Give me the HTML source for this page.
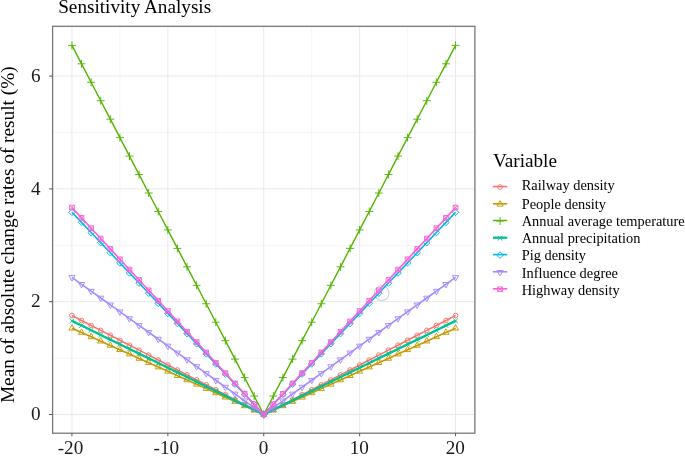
<!DOCTYPE html>
<html><head><meta charset="utf-8"><title>Sensitivity Analysis</title>
<style>html,body{margin:0;padding:0;background:#fff;overflow:hidden}body{width:685px;height:456px;font-family:"Liberation Serif",serif}</style></head>
<body>
<svg width="685" height="456" viewBox="0 0 685 456" style="display:block;filter:blur(0.35px);font-family:'Liberation Serif',serif">
<rect width="685" height="456" fill="#fff"/>
<path d="M52.6,358.10H474.9" stroke="#f0f0f0" stroke-width="0.7"/>
<path d="M52.6,245.30H474.9" stroke="#f0f0f0" stroke-width="0.7"/>
<path d="M52.6,132.50H474.9" stroke="#f0f0f0" stroke-width="0.7"/>
<path d="M119.90,26.3V433.2" stroke="#f0f0f0" stroke-width="0.7"/>
<path d="M215.80,26.3V433.2" stroke="#f0f0f0" stroke-width="0.7"/>
<path d="M311.70,26.3V433.2" stroke="#f0f0f0" stroke-width="0.7"/>
<path d="M407.60,26.3V433.2" stroke="#f0f0f0" stroke-width="0.7"/>
<path d="M52.6,414.50H474.9" stroke="#e9e9e9" stroke-width="1"/>
<path d="M52.6,301.70H474.9" stroke="#e9e9e9" stroke-width="1"/>
<path d="M52.6,188.90H474.9" stroke="#e9e9e9" stroke-width="1"/>
<path d="M52.6,76.10H474.9" stroke="#e9e9e9" stroke-width="1"/>
<path d="M71.95,26.3V433.2" stroke="#e9e9e9" stroke-width="1"/>
<path d="M167.85,26.3V433.2" stroke="#e9e9e9" stroke-width="1"/>
<path d="M263.75,26.3V433.2" stroke="#e9e9e9" stroke-width="1"/>
<path d="M359.65,26.3V433.2" stroke="#e9e9e9" stroke-width="1"/>
<path d="M455.55,26.3V433.2" stroke="#e9e9e9" stroke-width="1"/>
<circle cx="381.6" cy="293.2" r="7.4" fill="none" stroke="#cdcdd2" stroke-width="1.1"/>
<polyline fill="none" stroke="#F8766D" stroke-width="1.6" stroke-linejoin="round" points="71.95,315.52 81.54,320.47 91.13,325.42 100.72,330.37 110.31,335.31 119.90,340.26 129.49,345.21 139.08,350.16 148.67,355.11 158.26,360.06 167.85,365.01 177.44,369.96 187.03,374.91 196.62,379.86 206.21,384.81 215.80,389.75 225.39,394.70 234.98,399.65 244.57,404.60 254.16,409.55 263.75,414.50 273.34,409.55 282.93,404.60 292.52,399.65 302.11,394.70 311.70,389.75 321.29,384.81 330.88,379.86 340.47,374.91 350.06,369.96 359.65,365.01 369.24,360.06 378.83,355.11 388.42,350.16 398.01,345.21 407.60,340.26 417.19,335.31 426.78,330.37 436.37,325.42 445.96,320.47 455.55,315.52"/>
<g><circle cx="71.95" cy="315.52" r="2.33" fill="none" stroke="#F8766D" stroke-width="0.95"/><circle cx="81.54" cy="320.47" r="2.33" fill="none" stroke="#F8766D" stroke-width="0.95"/><circle cx="91.13" cy="325.42" r="2.33" fill="none" stroke="#F8766D" stroke-width="0.95"/><circle cx="100.72" cy="330.37" r="2.33" fill="none" stroke="#F8766D" stroke-width="0.95"/><circle cx="110.31" cy="335.31" r="2.33" fill="none" stroke="#F8766D" stroke-width="0.95"/><circle cx="119.90" cy="340.26" r="2.33" fill="none" stroke="#F8766D" stroke-width="0.95"/><circle cx="129.49" cy="345.21" r="2.33" fill="none" stroke="#F8766D" stroke-width="0.95"/><circle cx="139.08" cy="350.16" r="2.33" fill="none" stroke="#F8766D" stroke-width="0.95"/><circle cx="148.67" cy="355.11" r="2.33" fill="none" stroke="#F8766D" stroke-width="0.95"/><circle cx="158.26" cy="360.06" r="2.33" fill="none" stroke="#F8766D" stroke-width="0.95"/><circle cx="167.85" cy="365.01" r="2.33" fill="none" stroke="#F8766D" stroke-width="0.95"/><circle cx="177.44" cy="369.96" r="2.33" fill="none" stroke="#F8766D" stroke-width="0.95"/><circle cx="187.03" cy="374.91" r="2.33" fill="none" stroke="#F8766D" stroke-width="0.95"/><circle cx="196.62" cy="379.86" r="2.33" fill="none" stroke="#F8766D" stroke-width="0.95"/><circle cx="206.21" cy="384.81" r="2.33" fill="none" stroke="#F8766D" stroke-width="0.95"/><circle cx="215.80" cy="389.75" r="2.33" fill="none" stroke="#F8766D" stroke-width="0.95"/><circle cx="225.39" cy="394.70" r="2.33" fill="none" stroke="#F8766D" stroke-width="0.95"/><circle cx="234.98" cy="399.65" r="2.33" fill="none" stroke="#F8766D" stroke-width="0.95"/><circle cx="244.57" cy="404.60" r="2.33" fill="none" stroke="#F8766D" stroke-width="0.95"/><circle cx="254.16" cy="409.55" r="2.33" fill="none" stroke="#F8766D" stroke-width="0.95"/><circle cx="263.75" cy="414.50" r="2.33" fill="none" stroke="#F8766D" stroke-width="0.95"/><circle cx="273.34" cy="409.55" r="2.33" fill="none" stroke="#F8766D" stroke-width="0.95"/><circle cx="282.93" cy="404.60" r="2.33" fill="none" stroke="#F8766D" stroke-width="0.95"/><circle cx="292.52" cy="399.65" r="2.33" fill="none" stroke="#F8766D" stroke-width="0.95"/><circle cx="302.11" cy="394.70" r="2.33" fill="none" stroke="#F8766D" stroke-width="0.95"/><circle cx="311.70" cy="389.75" r="2.33" fill="none" stroke="#F8766D" stroke-width="0.95"/><circle cx="321.29" cy="384.81" r="2.33" fill="none" stroke="#F8766D" stroke-width="0.95"/><circle cx="330.88" cy="379.86" r="2.33" fill="none" stroke="#F8766D" stroke-width="0.95"/><circle cx="340.47" cy="374.91" r="2.33" fill="none" stroke="#F8766D" stroke-width="0.95"/><circle cx="350.06" cy="369.96" r="2.33" fill="none" stroke="#F8766D" stroke-width="0.95"/><circle cx="359.65" cy="365.01" r="2.33" fill="none" stroke="#F8766D" stroke-width="0.95"/><circle cx="369.24" cy="360.06" r="2.33" fill="none" stroke="#F8766D" stroke-width="0.95"/><circle cx="378.83" cy="355.11" r="2.33" fill="none" stroke="#F8766D" stroke-width="0.95"/><circle cx="388.42" cy="350.16" r="2.33" fill="none" stroke="#F8766D" stroke-width="0.95"/><circle cx="398.01" cy="345.21" r="2.33" fill="none" stroke="#F8766D" stroke-width="0.95"/><circle cx="407.60" cy="340.26" r="2.33" fill="none" stroke="#F8766D" stroke-width="0.95"/><circle cx="417.19" cy="335.31" r="2.33" fill="none" stroke="#F8766D" stroke-width="0.95"/><circle cx="426.78" cy="330.37" r="2.33" fill="none" stroke="#F8766D" stroke-width="0.95"/><circle cx="436.37" cy="325.42" r="2.33" fill="none" stroke="#F8766D" stroke-width="0.95"/><circle cx="445.96" cy="320.47" r="2.33" fill="none" stroke="#F8766D" stroke-width="0.95"/><circle cx="455.55" cy="315.52" r="2.33" fill="none" stroke="#F8766D" stroke-width="0.95"/></g>
<polyline fill="none" stroke="#C49A00" stroke-width="1.6" stroke-linejoin="round" points="71.95,328.21 81.54,332.52 91.13,336.84 100.72,341.15 110.31,345.47 119.90,349.78 129.49,354.10 139.08,358.41 148.67,362.72 158.26,367.04 167.85,371.35 177.44,375.67 187.03,379.98 196.62,384.30 206.21,388.61 215.80,392.93 225.39,397.24 234.98,401.56 244.57,405.87 254.16,410.19 263.75,414.50 273.34,410.19 282.93,405.87 292.52,401.56 302.11,397.24 311.70,392.93 321.29,388.61 330.88,384.30 340.47,379.98 350.06,375.67 359.65,371.35 369.24,367.04 378.83,362.72 388.42,358.41 398.01,354.10 407.60,349.78 417.19,345.47 426.78,341.15 436.37,336.84 445.96,332.52 455.55,328.21"/>
<g><path d="M71.95,324.59L75.08,330.02L68.82,330.02Z" fill="none" stroke="#C49A00" stroke-width="0.95"/><path d="M81.54,328.91L84.67,334.33L78.41,334.33Z" fill="none" stroke="#C49A00" stroke-width="0.95"/><path d="M91.13,333.22L94.26,338.65L88.00,338.65Z" fill="none" stroke="#C49A00" stroke-width="0.95"/><path d="M100.72,337.54L103.85,342.96L97.59,342.96Z" fill="none" stroke="#C49A00" stroke-width="0.95"/><path d="M110.31,341.85L113.44,347.27L107.18,347.27Z" fill="none" stroke="#C49A00" stroke-width="0.95"/><path d="M119.90,346.17L123.03,351.59L116.77,351.59Z" fill="none" stroke="#C49A00" stroke-width="0.95"/><path d="M129.49,350.48L132.62,355.90L126.36,355.90Z" fill="none" stroke="#C49A00" stroke-width="0.95"/><path d="M139.08,354.79L142.21,360.22L135.95,360.22Z" fill="none" stroke="#C49A00" stroke-width="0.95"/><path d="M148.67,359.11L151.80,364.53L145.54,364.53Z" fill="none" stroke="#C49A00" stroke-width="0.95"/><path d="M158.26,363.42L161.39,368.85L155.13,368.85Z" fill="none" stroke="#C49A00" stroke-width="0.95"/><path d="M167.85,367.74L170.98,373.16L164.72,373.16Z" fill="none" stroke="#C49A00" stroke-width="0.95"/><path d="M177.44,372.05L180.57,377.48L174.31,377.48Z" fill="none" stroke="#C49A00" stroke-width="0.95"/><path d="M187.03,376.37L190.16,381.79L183.90,381.79Z" fill="none" stroke="#C49A00" stroke-width="0.95"/><path d="M196.62,380.68L199.75,386.11L193.49,386.11Z" fill="none" stroke="#C49A00" stroke-width="0.95"/><path d="M206.21,385.00L209.34,390.42L203.08,390.42Z" fill="none" stroke="#C49A00" stroke-width="0.95"/><path d="M215.80,389.31L218.93,394.73L212.67,394.73Z" fill="none" stroke="#C49A00" stroke-width="0.95"/><path d="M225.39,393.63L228.52,399.05L222.26,399.05Z" fill="none" stroke="#C49A00" stroke-width="0.95"/><path d="M234.98,397.94L238.11,403.36L231.85,403.36Z" fill="none" stroke="#C49A00" stroke-width="0.95"/><path d="M244.57,402.26L247.70,407.68L241.44,407.68Z" fill="none" stroke="#C49A00" stroke-width="0.95"/><path d="M254.16,406.57L257.29,411.99L251.03,411.99Z" fill="none" stroke="#C49A00" stroke-width="0.95"/><path d="M263.75,410.88L266.88,416.31L260.62,416.31Z" fill="none" stroke="#C49A00" stroke-width="0.95"/><path d="M273.34,406.57L276.47,411.99L270.21,411.99Z" fill="none" stroke="#C49A00" stroke-width="0.95"/><path d="M282.93,402.26L286.06,407.68L279.80,407.68Z" fill="none" stroke="#C49A00" stroke-width="0.95"/><path d="M292.52,397.94L295.65,403.36L289.39,403.36Z" fill="none" stroke="#C49A00" stroke-width="0.95"/><path d="M302.11,393.63L305.24,399.05L298.98,399.05Z" fill="none" stroke="#C49A00" stroke-width="0.95"/><path d="M311.70,389.31L314.83,394.73L308.57,394.73Z" fill="none" stroke="#C49A00" stroke-width="0.95"/><path d="M321.29,385.00L324.42,390.42L318.16,390.42Z" fill="none" stroke="#C49A00" stroke-width="0.95"/><path d="M330.88,380.68L334.01,386.11L327.75,386.11Z" fill="none" stroke="#C49A00" stroke-width="0.95"/><path d="M340.47,376.37L343.60,381.79L337.34,381.79Z" fill="none" stroke="#C49A00" stroke-width="0.95"/><path d="M350.06,372.05L353.19,377.48L346.93,377.48Z" fill="none" stroke="#C49A00" stroke-width="0.95"/><path d="M359.65,367.74L362.78,373.16L356.52,373.16Z" fill="none" stroke="#C49A00" stroke-width="0.95"/><path d="M369.24,363.42L372.37,368.85L366.11,368.85Z" fill="none" stroke="#C49A00" stroke-width="0.95"/><path d="M378.83,359.11L381.96,364.53L375.70,364.53Z" fill="none" stroke="#C49A00" stroke-width="0.95"/><path d="M388.42,354.79L391.55,360.22L385.29,360.22Z" fill="none" stroke="#C49A00" stroke-width="0.95"/><path d="M398.01,350.48L401.14,355.90L394.88,355.90Z" fill="none" stroke="#C49A00" stroke-width="0.95"/><path d="M407.60,346.17L410.73,351.59L404.47,351.59Z" fill="none" stroke="#C49A00" stroke-width="0.95"/><path d="M417.19,341.85L420.32,347.27L414.06,347.27Z" fill="none" stroke="#C49A00" stroke-width="0.95"/><path d="M426.78,337.54L429.91,342.96L423.65,342.96Z" fill="none" stroke="#C49A00" stroke-width="0.95"/><path d="M436.37,333.22L439.50,338.65L433.24,338.65Z" fill="none" stroke="#C49A00" stroke-width="0.95"/><path d="M445.96,328.91L449.09,334.33L442.83,334.33Z" fill="none" stroke="#C49A00" stroke-width="0.95"/><path d="M455.55,324.59L458.68,330.02L452.42,330.02Z" fill="none" stroke="#C49A00" stroke-width="0.95"/></g>
<polyline fill="none" stroke="#53B400" stroke-width="1.4" stroke-linejoin="round" points="71.95,45.36 81.54,63.82 91.13,82.28 100.72,100.73 110.31,119.19 119.90,137.65 129.49,156.10 139.08,174.56 148.67,193.02 158.26,211.47 167.85,229.93 177.44,248.39 187.03,266.84 196.62,285.30 206.21,303.76 215.80,322.22 225.39,340.67 234.98,359.13 244.57,377.59 254.16,396.04 263.75,414.50 273.34,396.04 282.93,377.59 292.52,359.13 302.11,340.67 311.70,322.22 321.29,303.76 330.88,285.30 340.47,266.84 350.06,248.39 359.65,229.93 369.24,211.47 378.83,193.02 388.42,174.56 398.01,156.10 407.60,137.65 417.19,119.19 426.78,100.73 436.37,82.28 445.96,63.82 455.55,45.36"/>
<g><path d="M68.00,45.36H75.90M71.95,41.42V49.31" fill="none" stroke="#53B400" stroke-width="0.95"/><path d="M77.59,63.82H85.49M81.54,59.87V67.76" fill="none" stroke="#53B400" stroke-width="0.95"/><path d="M87.18,82.28H95.08M91.13,78.33V86.22" fill="none" stroke="#53B400" stroke-width="0.95"/><path d="M96.77,100.73H104.67M100.72,96.79V104.68" fill="none" stroke="#53B400" stroke-width="0.95"/><path d="M106.36,119.19H114.26M110.31,115.24V123.14" fill="none" stroke="#53B400" stroke-width="0.95"/><path d="M115.95,137.65H123.85M119.90,133.70V141.59" fill="none" stroke="#53B400" stroke-width="0.95"/><path d="M125.54,156.10H133.44M129.49,152.16V160.05" fill="none" stroke="#53B400" stroke-width="0.95"/><path d="M135.13,174.56H143.03M139.08,170.61V178.51" fill="none" stroke="#53B400" stroke-width="0.95"/><path d="M144.72,193.02H152.62M148.67,189.07V196.96" fill="none" stroke="#53B400" stroke-width="0.95"/><path d="M154.31,211.47H162.21M158.26,207.53V215.42" fill="none" stroke="#53B400" stroke-width="0.95"/><path d="M163.90,229.93H171.80M167.85,225.99V233.88" fill="none" stroke="#53B400" stroke-width="0.95"/><path d="M173.49,248.39H181.39M177.44,244.44V252.33" fill="none" stroke="#53B400" stroke-width="0.95"/><path d="M183.08,266.84H190.98M187.03,262.90V270.79" fill="none" stroke="#53B400" stroke-width="0.95"/><path d="M192.67,285.30H200.57M196.62,281.36V289.25" fill="none" stroke="#53B400" stroke-width="0.95"/><path d="M202.26,303.76H210.16M206.21,299.81V307.70" fill="none" stroke="#53B400" stroke-width="0.95"/><path d="M211.85,322.22H219.75M215.80,318.27V326.16" fill="none" stroke="#53B400" stroke-width="0.95"/><path d="M221.44,340.67H229.34M225.39,336.73V344.62" fill="none" stroke="#53B400" stroke-width="0.95"/><path d="M231.03,359.13H238.93M234.98,355.18V363.07" fill="none" stroke="#53B400" stroke-width="0.95"/><path d="M240.62,377.59H248.52M244.57,373.64V381.53" fill="none" stroke="#53B400" stroke-width="0.95"/><path d="M250.21,396.04H258.11M254.16,392.10V399.99" fill="none" stroke="#53B400" stroke-width="0.95"/><path d="M259.80,414.50H267.70M263.75,410.55V418.45" fill="none" stroke="#53B400" stroke-width="0.95"/><path d="M269.39,396.04H277.29M273.34,392.10V399.99" fill="none" stroke="#53B400" stroke-width="0.95"/><path d="M278.98,377.59H286.88M282.93,373.64V381.53" fill="none" stroke="#53B400" stroke-width="0.95"/><path d="M288.57,359.13H296.47M292.52,355.18V363.07" fill="none" stroke="#53B400" stroke-width="0.95"/><path d="M298.16,340.67H306.06M302.11,336.73V344.62" fill="none" stroke="#53B400" stroke-width="0.95"/><path d="M307.75,322.22H315.65M311.70,318.27V326.16" fill="none" stroke="#53B400" stroke-width="0.95"/><path d="M317.34,303.76H325.24M321.29,299.81V307.70" fill="none" stroke="#53B400" stroke-width="0.95"/><path d="M326.93,285.30H334.83M330.88,281.36V289.25" fill="none" stroke="#53B400" stroke-width="0.95"/><path d="M336.52,266.84H344.42M340.47,262.90V270.79" fill="none" stroke="#53B400" stroke-width="0.95"/><path d="M346.11,248.39H354.01M350.06,244.44V252.33" fill="none" stroke="#53B400" stroke-width="0.95"/><path d="M355.70,229.93H363.60M359.65,225.99V233.88" fill="none" stroke="#53B400" stroke-width="0.95"/><path d="M365.29,211.47H373.19M369.24,207.53V215.42" fill="none" stroke="#53B400" stroke-width="0.95"/><path d="M374.88,193.02H382.78M378.83,189.07V196.96" fill="none" stroke="#53B400" stroke-width="0.95"/><path d="M384.47,174.56H392.37M388.42,170.61V178.51" fill="none" stroke="#53B400" stroke-width="0.95"/><path d="M394.06,156.10H401.96M398.01,152.16V160.05" fill="none" stroke="#53B400" stroke-width="0.95"/><path d="M403.65,137.65H411.55M407.60,133.70V141.59" fill="none" stroke="#53B400" stroke-width="0.95"/><path d="M413.24,119.19H421.14M417.19,115.24V123.14" fill="none" stroke="#53B400" stroke-width="0.95"/><path d="M422.83,100.73H430.73M426.78,96.79V104.68" fill="none" stroke="#53B400" stroke-width="0.95"/><path d="M432.42,82.28H440.32M436.37,78.33V86.22" fill="none" stroke="#53B400" stroke-width="0.95"/><path d="M442.01,63.82H449.91M445.96,59.87V67.76" fill="none" stroke="#53B400" stroke-width="0.95"/><path d="M451.60,45.36H459.50M455.55,41.42V49.31" fill="none" stroke="#53B400" stroke-width="0.95"/></g>
<polyline fill="none" stroke="#00C094" stroke-width="2.3" stroke-linejoin="round" points="71.95,320.88 81.54,325.56 91.13,330.24 100.72,334.92 110.31,339.60 119.90,344.28 129.49,348.96 139.08,353.64 148.67,358.33 158.26,363.01 167.85,367.69 177.44,372.37 187.03,377.05 196.62,381.73 206.21,386.41 215.80,391.09 225.39,395.78 234.98,400.46 244.57,405.14 254.16,409.82 263.75,414.50 273.34,409.82 282.93,405.14 292.52,400.46 302.11,395.78 311.70,391.09 321.29,386.41 330.88,381.73 340.47,377.05 350.06,372.37 359.65,367.69 369.24,363.01 378.83,358.33 388.42,353.64 398.01,348.96 407.60,344.28 417.19,339.60 426.78,334.92 436.37,330.24 445.96,325.56 455.55,320.88"/>
<g><path d="M69.62,318.55L74.27,323.20M69.62,323.20L74.27,318.55" fill="none" stroke="#00C094" stroke-width="0.95"/><path d="M79.21,323.23L83.86,327.88M79.21,327.88L83.86,323.23" fill="none" stroke="#00C094" stroke-width="0.95"/><path d="M88.80,327.91L93.45,332.56M88.80,332.56L93.45,327.91" fill="none" stroke="#00C094" stroke-width="0.95"/><path d="M98.39,332.59L103.05,337.24M98.39,337.24L103.05,332.59" fill="none" stroke="#00C094" stroke-width="0.95"/><path d="M107.98,337.28L112.64,341.93M107.98,341.93L112.64,337.28" fill="none" stroke="#00C094" stroke-width="0.95"/><path d="M117.58,341.96L122.23,346.61M117.58,346.61L122.23,341.96" fill="none" stroke="#00C094" stroke-width="0.95"/><path d="M127.17,346.64L131.81,351.29M127.17,351.29L131.81,346.64" fill="none" stroke="#00C094" stroke-width="0.95"/><path d="M136.75,351.32L141.40,355.97M136.75,355.97L141.40,351.32" fill="none" stroke="#00C094" stroke-width="0.95"/><path d="M146.35,356.00L151.00,360.65M146.35,360.65L151.00,356.00" fill="none" stroke="#00C094" stroke-width="0.95"/><path d="M155.94,360.68L160.58,365.33M155.94,365.33L160.58,360.68" fill="none" stroke="#00C094" stroke-width="0.95"/><path d="M165.53,365.36L170.17,370.01M165.53,370.01L170.17,365.36" fill="none" stroke="#00C094" stroke-width="0.95"/><path d="M175.12,370.04L179.76,374.69M175.12,374.69L179.76,370.04" fill="none" stroke="#00C094" stroke-width="0.95"/><path d="M184.71,374.73L189.35,379.38M184.71,379.38L189.35,374.73" fill="none" stroke="#00C094" stroke-width="0.95"/><path d="M194.30,379.41L198.94,384.06M194.30,384.06L198.94,379.41" fill="none" stroke="#00C094" stroke-width="0.95"/><path d="M203.89,384.09L208.53,388.74M203.89,388.74L208.53,384.09" fill="none" stroke="#00C094" stroke-width="0.95"/><path d="M213.48,388.77L218.12,393.42M213.48,393.42L218.12,388.77" fill="none" stroke="#00C094" stroke-width="0.95"/><path d="M223.06,393.45L227.71,398.10M223.06,398.10L227.71,393.45" fill="none" stroke="#00C094" stroke-width="0.95"/><path d="M232.66,398.13L237.30,402.78M232.66,402.78L237.30,398.13" fill="none" stroke="#00C094" stroke-width="0.95"/><path d="M242.25,402.81L246.89,407.46M242.25,407.46L246.89,402.81" fill="none" stroke="#00C094" stroke-width="0.95"/><path d="M251.84,407.49L256.49,412.14M251.84,412.14L256.49,407.49" fill="none" stroke="#00C094" stroke-width="0.95"/><path d="M261.43,412.18L266.07,416.82M261.43,416.82L266.07,412.18" fill="none" stroke="#00C094" stroke-width="0.95"/><path d="M271.01,407.49L275.66,412.14M271.01,412.14L275.66,407.49" fill="none" stroke="#00C094" stroke-width="0.95"/><path d="M280.61,402.81L285.25,407.46M280.61,407.46L285.25,402.81" fill="none" stroke="#00C094" stroke-width="0.95"/><path d="M290.19,398.13L294.84,402.78M290.19,402.78L294.84,398.13" fill="none" stroke="#00C094" stroke-width="0.95"/><path d="M299.79,393.45L304.44,398.10M299.79,398.10L304.44,393.45" fill="none" stroke="#00C094" stroke-width="0.95"/><path d="M309.38,388.77L314.02,393.42M309.38,393.42L314.02,388.77" fill="none" stroke="#00C094" stroke-width="0.95"/><path d="M318.97,384.09L323.62,388.74M318.97,388.74L323.62,384.09" fill="none" stroke="#00C094" stroke-width="0.95"/><path d="M328.56,379.41L333.20,384.06M328.56,384.06L333.20,379.41" fill="none" stroke="#00C094" stroke-width="0.95"/><path d="M338.15,374.73L342.80,379.38M338.15,379.38L342.80,374.73" fill="none" stroke="#00C094" stroke-width="0.95"/><path d="M347.74,370.04L352.38,374.69M347.74,374.69L352.38,370.04" fill="none" stroke="#00C094" stroke-width="0.95"/><path d="M357.32,365.36L361.97,370.01M357.32,370.01L361.97,365.36" fill="none" stroke="#00C094" stroke-width="0.95"/><path d="M366.92,360.68L371.56,365.33M366.92,365.33L371.56,360.68" fill="none" stroke="#00C094" stroke-width="0.95"/><path d="M376.50,356.00L381.15,360.65M376.50,360.65L381.15,356.00" fill="none" stroke="#00C094" stroke-width="0.95"/><path d="M386.10,351.32L390.75,355.97M386.10,355.97L390.75,351.32" fill="none" stroke="#00C094" stroke-width="0.95"/><path d="M395.69,346.64L400.33,351.29M395.69,351.29L400.33,346.64" fill="none" stroke="#00C094" stroke-width="0.95"/><path d="M405.28,341.96L409.93,346.61M405.28,346.61L409.93,341.96" fill="none" stroke="#00C094" stroke-width="0.95"/><path d="M414.87,337.28L419.51,341.93M414.87,341.93L419.51,337.28" fill="none" stroke="#00C094" stroke-width="0.95"/><path d="M424.45,332.59L429.10,337.24M424.45,337.24L429.10,332.59" fill="none" stroke="#00C094" stroke-width="0.95"/><path d="M434.05,327.91L438.69,332.56M434.05,332.56L438.69,327.91" fill="none" stroke="#00C094" stroke-width="0.95"/><path d="M443.64,323.23L448.29,327.88M443.64,327.88L448.29,323.23" fill="none" stroke="#00C094" stroke-width="0.95"/><path d="M453.23,318.55L457.88,323.20M453.23,323.20L457.88,318.55" fill="none" stroke="#00C094" stroke-width="0.95"/></g>
<polyline fill="none" stroke="#00B6EB" stroke-width="1.6" stroke-linejoin="round" points="71.95,212.31 81.54,222.42 91.13,232.53 100.72,242.64 110.31,252.74 119.90,262.85 129.49,272.96 139.08,283.07 148.67,293.18 158.26,303.29 167.85,313.40 177.44,323.51 187.03,333.62 196.62,343.73 206.21,353.84 215.80,363.95 225.39,374.06 234.98,384.17 244.57,394.28 254.16,404.39 263.75,414.50 273.34,404.39 282.93,394.28 292.52,384.17 302.11,374.06 311.70,363.95 321.29,353.84 330.88,343.73 340.47,333.62 350.06,323.51 359.65,313.40 369.24,303.29 378.83,293.18 388.42,283.07 398.01,272.96 407.60,262.85 417.19,252.74 426.78,242.64 436.37,232.53 445.96,222.42 455.55,212.31"/>
<g><path d="M68.66,212.31L71.95,209.02L75.24,212.31L71.95,215.59Z" fill="none" stroke="#00B6EB" stroke-width="0.95"/><path d="M78.25,222.42L81.54,219.13L84.83,222.42L81.54,225.70Z" fill="none" stroke="#00B6EB" stroke-width="0.95"/><path d="M87.84,232.53L91.13,229.24L94.42,232.53L91.13,235.81Z" fill="none" stroke="#00B6EB" stroke-width="0.95"/><path d="M97.43,242.64L100.72,239.35L104.01,242.64L100.72,245.92Z" fill="none" stroke="#00B6EB" stroke-width="0.95"/><path d="M107.02,252.74L110.31,249.46L113.60,252.74L110.31,256.03Z" fill="none" stroke="#00B6EB" stroke-width="0.95"/><path d="M116.61,262.85L119.90,259.57L123.19,262.85L119.90,266.14Z" fill="none" stroke="#00B6EB" stroke-width="0.95"/><path d="M126.20,272.96L129.49,269.68L132.78,272.96L129.49,276.25Z" fill="none" stroke="#00B6EB" stroke-width="0.95"/><path d="M135.79,283.07L139.08,279.79L142.37,283.07L139.08,286.36Z" fill="none" stroke="#00B6EB" stroke-width="0.95"/><path d="M145.38,293.18L148.67,289.90L151.96,293.18L148.67,296.47Z" fill="none" stroke="#00B6EB" stroke-width="0.95"/><path d="M154.97,303.29L158.26,300.01L161.55,303.29L158.26,306.58Z" fill="none" stroke="#00B6EB" stroke-width="0.95"/><path d="M164.56,313.40L167.85,310.11L171.14,313.40L167.85,316.69Z" fill="none" stroke="#00B6EB" stroke-width="0.95"/><path d="M174.15,323.51L177.44,320.22L180.73,323.51L177.44,326.80Z" fill="none" stroke="#00B6EB" stroke-width="0.95"/><path d="M183.74,333.62L187.03,330.33L190.32,333.62L187.03,336.91Z" fill="none" stroke="#00B6EB" stroke-width="0.95"/><path d="M193.33,343.73L196.62,340.44L199.91,343.73L196.62,347.02Z" fill="none" stroke="#00B6EB" stroke-width="0.95"/><path d="M202.92,353.84L206.21,350.55L209.50,353.84L206.21,357.13Z" fill="none" stroke="#00B6EB" stroke-width="0.95"/><path d="M212.51,363.95L215.80,360.66L219.09,363.95L215.80,367.24Z" fill="none" stroke="#00B6EB" stroke-width="0.95"/><path d="M222.10,374.06L225.39,370.77L228.68,374.06L225.39,377.35Z" fill="none" stroke="#00B6EB" stroke-width="0.95"/><path d="M231.69,384.17L234.98,380.88L238.27,384.17L234.98,387.46Z" fill="none" stroke="#00B6EB" stroke-width="0.95"/><path d="M241.28,394.28L244.57,390.99L247.86,394.28L244.57,397.57Z" fill="none" stroke="#00B6EB" stroke-width="0.95"/><path d="M250.87,404.39L254.16,401.10L257.45,404.39L254.16,407.68Z" fill="none" stroke="#00B6EB" stroke-width="0.95"/><path d="M260.46,414.50L263.75,411.21L267.04,414.50L263.75,417.79Z" fill="none" stroke="#00B6EB" stroke-width="0.95"/><path d="M270.05,404.39L273.34,401.10L276.63,404.39L273.34,407.68Z" fill="none" stroke="#00B6EB" stroke-width="0.95"/><path d="M279.64,394.28L282.93,390.99L286.22,394.28L282.93,397.57Z" fill="none" stroke="#00B6EB" stroke-width="0.95"/><path d="M289.23,384.17L292.52,380.88L295.81,384.17L292.52,387.46Z" fill="none" stroke="#00B6EB" stroke-width="0.95"/><path d="M298.82,374.06L302.11,370.77L305.40,374.06L302.11,377.35Z" fill="none" stroke="#00B6EB" stroke-width="0.95"/><path d="M308.41,363.95L311.70,360.66L314.99,363.95L311.70,367.24Z" fill="none" stroke="#00B6EB" stroke-width="0.95"/><path d="M318.00,353.84L321.29,350.55L324.58,353.84L321.29,357.13Z" fill="none" stroke="#00B6EB" stroke-width="0.95"/><path d="M327.59,343.73L330.88,340.44L334.17,343.73L330.88,347.02Z" fill="none" stroke="#00B6EB" stroke-width="0.95"/><path d="M337.18,333.62L340.47,330.33L343.76,333.62L340.47,336.91Z" fill="none" stroke="#00B6EB" stroke-width="0.95"/><path d="M346.77,323.51L350.06,320.22L353.35,323.51L350.06,326.80Z" fill="none" stroke="#00B6EB" stroke-width="0.95"/><path d="M356.36,313.40L359.65,310.11L362.94,313.40L359.65,316.69Z" fill="none" stroke="#00B6EB" stroke-width="0.95"/><path d="M365.95,303.29L369.24,300.01L372.53,303.29L369.24,306.58Z" fill="none" stroke="#00B6EB" stroke-width="0.95"/><path d="M375.54,293.18L378.83,289.90L382.12,293.18L378.83,296.47Z" fill="none" stroke="#00B6EB" stroke-width="0.95"/><path d="M385.13,283.07L388.42,279.79L391.71,283.07L388.42,286.36Z" fill="none" stroke="#00B6EB" stroke-width="0.95"/><path d="M394.72,272.96L398.01,269.68L401.30,272.96L398.01,276.25Z" fill="none" stroke="#00B6EB" stroke-width="0.95"/><path d="M404.31,262.85L407.60,259.57L410.89,262.85L407.60,266.14Z" fill="none" stroke="#00B6EB" stroke-width="0.95"/><path d="M413.90,252.74L417.19,249.46L420.48,252.74L417.19,256.03Z" fill="none" stroke="#00B6EB" stroke-width="0.95"/><path d="M423.49,242.64L426.78,239.35L430.07,242.64L426.78,245.92Z" fill="none" stroke="#00B6EB" stroke-width="0.95"/><path d="M433.08,232.53L436.37,229.24L439.66,232.53L436.37,235.81Z" fill="none" stroke="#00B6EB" stroke-width="0.95"/><path d="M442.67,222.42L445.96,219.13L449.25,222.42L445.96,225.70Z" fill="none" stroke="#00B6EB" stroke-width="0.95"/><path d="M452.26,212.31L455.55,209.02L458.84,212.31L455.55,215.59Z" fill="none" stroke="#00B6EB" stroke-width="0.95"/></g>
<polyline fill="none" stroke="#A58AFF" stroke-width="1.6" stroke-linejoin="round" points="71.95,277.45 81.54,284.30 91.13,291.15 100.72,298.01 110.31,304.86 119.90,311.71 129.49,318.56 139.08,325.42 148.67,332.27 158.26,339.12 167.85,345.97 177.44,352.83 187.03,359.68 196.62,366.53 206.21,373.38 215.80,380.24 225.39,387.09 234.98,393.94 244.57,400.79 254.16,407.65 263.75,414.50 273.34,407.65 282.93,400.79 292.52,393.94 302.11,387.09 311.70,380.24 321.29,373.38 330.88,366.53 340.47,359.68 350.06,352.83 359.65,345.97 369.24,339.12 378.83,332.27 388.42,325.42 398.01,318.56 407.60,311.71 417.19,304.86 426.78,298.01 436.37,291.15 445.96,284.30 455.55,277.45"/>
<g><path d="M71.95,281.06L75.08,275.64L68.82,275.64Z" fill="none" stroke="#A58AFF" stroke-width="0.95"/><path d="M81.54,287.92L84.67,282.49L78.41,282.49Z" fill="none" stroke="#A58AFF" stroke-width="0.95"/><path d="M91.13,294.77L94.26,289.35L88.00,289.35Z" fill="none" stroke="#A58AFF" stroke-width="0.95"/><path d="M100.72,301.62L103.85,296.20L97.59,296.20Z" fill="none" stroke="#A58AFF" stroke-width="0.95"/><path d="M110.31,308.47L113.44,303.05L107.18,303.05Z" fill="none" stroke="#A58AFF" stroke-width="0.95"/><path d="M119.90,315.33L123.03,309.90L116.77,309.90Z" fill="none" stroke="#A58AFF" stroke-width="0.95"/><path d="M129.49,322.18L132.62,316.76L126.36,316.76Z" fill="none" stroke="#A58AFF" stroke-width="0.95"/><path d="M139.08,329.03L142.21,323.61L135.95,323.61Z" fill="none" stroke="#A58AFF" stroke-width="0.95"/><path d="M148.67,335.88L151.80,330.46L145.54,330.46Z" fill="none" stroke="#A58AFF" stroke-width="0.95"/><path d="M158.26,342.74L161.39,337.31L155.13,337.31Z" fill="none" stroke="#A58AFF" stroke-width="0.95"/><path d="M167.85,349.59L170.98,344.17L164.72,344.17Z" fill="none" stroke="#A58AFF" stroke-width="0.95"/><path d="M177.44,356.44L180.57,351.02L174.31,351.02Z" fill="none" stroke="#A58AFF" stroke-width="0.95"/><path d="M187.03,363.29L190.16,357.87L183.90,357.87Z" fill="none" stroke="#A58AFF" stroke-width="0.95"/><path d="M196.62,370.15L199.75,364.72L193.49,364.72Z" fill="none" stroke="#A58AFF" stroke-width="0.95"/><path d="M206.21,377.00L209.34,371.58L203.08,371.58Z" fill="none" stroke="#A58AFF" stroke-width="0.95"/><path d="M215.80,383.85L218.93,378.43L212.67,378.43Z" fill="none" stroke="#A58AFF" stroke-width="0.95"/><path d="M225.39,390.71L228.52,385.28L222.26,385.28Z" fill="none" stroke="#A58AFF" stroke-width="0.95"/><path d="M234.98,397.56L238.11,392.13L231.85,392.13Z" fill="none" stroke="#A58AFF" stroke-width="0.95"/><path d="M244.57,404.41L247.70,398.99L241.44,398.99Z" fill="none" stroke="#A58AFF" stroke-width="0.95"/><path d="M254.16,411.26L257.29,405.84L251.03,405.84Z" fill="none" stroke="#A58AFF" stroke-width="0.95"/><path d="M263.75,418.12L266.88,412.69L260.62,412.69Z" fill="none" stroke="#A58AFF" stroke-width="0.95"/><path d="M273.34,411.26L276.47,405.84L270.21,405.84Z" fill="none" stroke="#A58AFF" stroke-width="0.95"/><path d="M282.93,404.41L286.06,398.99L279.80,398.99Z" fill="none" stroke="#A58AFF" stroke-width="0.95"/><path d="M292.52,397.56L295.65,392.13L289.39,392.13Z" fill="none" stroke="#A58AFF" stroke-width="0.95"/><path d="M302.11,390.71L305.24,385.28L298.98,385.28Z" fill="none" stroke="#A58AFF" stroke-width="0.95"/><path d="M311.70,383.85L314.83,378.43L308.57,378.43Z" fill="none" stroke="#A58AFF" stroke-width="0.95"/><path d="M321.29,377.00L324.42,371.58L318.16,371.58Z" fill="none" stroke="#A58AFF" stroke-width="0.95"/><path d="M330.88,370.15L334.01,364.72L327.75,364.72Z" fill="none" stroke="#A58AFF" stroke-width="0.95"/><path d="M340.47,363.29L343.60,357.87L337.34,357.87Z" fill="none" stroke="#A58AFF" stroke-width="0.95"/><path d="M350.06,356.44L353.19,351.02L346.93,351.02Z" fill="none" stroke="#A58AFF" stroke-width="0.95"/><path d="M359.65,349.59L362.78,344.17L356.52,344.17Z" fill="none" stroke="#A58AFF" stroke-width="0.95"/><path d="M369.24,342.74L372.37,337.31L366.11,337.31Z" fill="none" stroke="#A58AFF" stroke-width="0.95"/><path d="M378.83,335.88L381.96,330.46L375.70,330.46Z" fill="none" stroke="#A58AFF" stroke-width="0.95"/><path d="M388.42,329.03L391.55,323.61L385.29,323.61Z" fill="none" stroke="#A58AFF" stroke-width="0.95"/><path d="M398.01,322.18L401.14,316.76L394.88,316.76Z" fill="none" stroke="#A58AFF" stroke-width="0.95"/><path d="M407.60,315.33L410.73,309.90L404.47,309.90Z" fill="none" stroke="#A58AFF" stroke-width="0.95"/><path d="M417.19,308.47L420.32,303.05L414.06,303.05Z" fill="none" stroke="#A58AFF" stroke-width="0.95"/><path d="M426.78,301.62L429.91,296.20L423.65,296.20Z" fill="none" stroke="#A58AFF" stroke-width="0.95"/><path d="M436.37,294.77L439.50,289.35L433.24,289.35Z" fill="none" stroke="#A58AFF" stroke-width="0.95"/><path d="M445.96,287.92L449.09,282.49L442.83,282.49Z" fill="none" stroke="#A58AFF" stroke-width="0.95"/><path d="M455.55,281.06L458.68,275.64L452.42,275.64Z" fill="none" stroke="#A58AFF" stroke-width="0.95"/></g>
<polyline fill="none" stroke="#FB61D7" stroke-width="1.6" stroke-linejoin="round" points="71.95,207.51 81.54,217.86 91.13,228.21 100.72,238.56 110.31,248.91 119.90,259.26 129.49,269.61 139.08,279.96 148.67,290.31 158.26,300.66 167.85,311.01 177.44,321.36 187.03,331.70 196.62,342.05 206.21,352.40 215.80,362.75 225.39,373.10 234.98,383.45 244.57,393.80 254.16,404.15 263.75,414.50 273.34,404.15 282.93,393.80 292.52,383.45 302.11,373.10 311.70,362.75 321.29,352.40 330.88,342.05 340.47,331.70 350.06,321.36 359.65,311.01 369.24,300.66 378.83,290.31 388.42,279.96 398.01,269.61 407.60,259.26 417.19,248.91 426.78,238.56 436.37,228.21 445.96,217.86 455.55,207.51"/>
<g><path d="M69.62,205.19H74.27V209.84H69.62ZM69.62,205.19L74.27,209.84M69.62,209.84L74.27,205.19" fill="none" stroke="#FB61D7" stroke-width="0.95"/><path d="M79.21,215.54H83.86V220.19H79.21ZM79.21,215.54L83.86,220.19M79.21,220.19L83.86,215.54" fill="none" stroke="#FB61D7" stroke-width="0.95"/><path d="M88.80,225.89H93.45V230.54H88.80ZM88.80,225.89L93.45,230.54M88.80,230.54L93.45,225.89" fill="none" stroke="#FB61D7" stroke-width="0.95"/><path d="M98.39,236.24H103.05V240.89H98.39ZM98.39,236.24L103.05,240.89M98.39,240.89L103.05,236.24" fill="none" stroke="#FB61D7" stroke-width="0.95"/><path d="M107.98,246.58H112.64V251.23H107.98ZM107.98,246.58L112.64,251.23M107.98,251.23L112.64,246.58" fill="none" stroke="#FB61D7" stroke-width="0.95"/><path d="M117.58,256.93H122.23V261.58H117.58ZM117.58,256.93L122.23,261.58M117.58,261.58L122.23,256.93" fill="none" stroke="#FB61D7" stroke-width="0.95"/><path d="M127.17,267.28H131.81V271.93H127.17ZM127.17,267.28L131.81,271.93M127.17,271.93L131.81,267.28" fill="none" stroke="#FB61D7" stroke-width="0.95"/><path d="M136.75,277.63H141.40V282.28H136.75ZM136.75,277.63L141.40,282.28M136.75,282.28L141.40,277.63" fill="none" stroke="#FB61D7" stroke-width="0.95"/><path d="M146.35,287.98H151.00V292.63H146.35ZM146.35,287.98L151.00,292.63M146.35,292.63L151.00,287.98" fill="none" stroke="#FB61D7" stroke-width="0.95"/><path d="M155.94,298.33H160.58V302.98H155.94ZM155.94,298.33L160.58,302.98M155.94,302.98L160.58,298.33" fill="none" stroke="#FB61D7" stroke-width="0.95"/><path d="M165.53,308.68H170.17V313.33H165.53ZM165.53,308.68L170.17,313.33M165.53,313.33L170.17,308.68" fill="none" stroke="#FB61D7" stroke-width="0.95"/><path d="M175.12,319.03H179.76V323.68H175.12ZM175.12,319.03L179.76,323.68M175.12,323.68L179.76,319.03" fill="none" stroke="#FB61D7" stroke-width="0.95"/><path d="M184.71,329.38H189.35V334.03H184.71ZM184.71,329.38L189.35,334.03M184.71,334.03L189.35,329.38" fill="none" stroke="#FB61D7" stroke-width="0.95"/><path d="M194.30,339.73H198.94V344.38H194.30ZM194.30,339.73L198.94,344.38M194.30,344.38L198.94,339.73" fill="none" stroke="#FB61D7" stroke-width="0.95"/><path d="M203.89,350.08H208.53V354.73H203.89ZM203.89,350.08L208.53,354.73M203.89,354.73L208.53,350.08" fill="none" stroke="#FB61D7" stroke-width="0.95"/><path d="M213.48,360.43H218.12V365.08H213.48ZM213.48,360.43L218.12,365.08M213.48,365.08L218.12,360.43" fill="none" stroke="#FB61D7" stroke-width="0.95"/><path d="M223.06,370.78H227.71V375.43H223.06ZM223.06,370.78L227.71,375.43M223.06,375.43L227.71,370.78" fill="none" stroke="#FB61D7" stroke-width="0.95"/><path d="M232.66,381.13H237.30V385.78H232.66ZM232.66,381.13L237.30,385.78M232.66,385.78L237.30,381.13" fill="none" stroke="#FB61D7" stroke-width="0.95"/><path d="M242.25,391.48H246.89V396.13H242.25ZM242.25,391.48L246.89,396.13M242.25,396.13L246.89,391.48" fill="none" stroke="#FB61D7" stroke-width="0.95"/><path d="M251.84,401.83H256.49V406.48H251.84ZM251.84,401.83L256.49,406.48M251.84,406.48L256.49,401.83" fill="none" stroke="#FB61D7" stroke-width="0.95"/><path d="M261.43,412.18H266.07V416.82H261.43ZM261.43,412.18L266.07,416.82M261.43,416.82L266.07,412.18" fill="none" stroke="#FB61D7" stroke-width="0.95"/><path d="M271.01,401.83H275.66V406.48H271.01ZM271.01,401.83L275.66,406.48M271.01,406.48L275.66,401.83" fill="none" stroke="#FB61D7" stroke-width="0.95"/><path d="M280.61,391.48H285.25V396.13H280.61ZM280.61,391.48L285.25,396.13M280.61,396.13L285.25,391.48" fill="none" stroke="#FB61D7" stroke-width="0.95"/><path d="M290.19,381.13H294.84V385.78H290.19ZM290.19,381.13L294.84,385.78M290.19,385.78L294.84,381.13" fill="none" stroke="#FB61D7" stroke-width="0.95"/><path d="M299.79,370.78H304.44V375.43H299.79ZM299.79,370.78L304.44,375.43M299.79,375.43L304.44,370.78" fill="none" stroke="#FB61D7" stroke-width="0.95"/><path d="M309.38,360.43H314.02V365.08H309.38ZM309.38,360.43L314.02,365.08M309.38,365.08L314.02,360.43" fill="none" stroke="#FB61D7" stroke-width="0.95"/><path d="M318.97,350.08H323.62V354.73H318.97ZM318.97,350.08L323.62,354.73M318.97,354.73L323.62,350.08" fill="none" stroke="#FB61D7" stroke-width="0.95"/><path d="M328.56,339.73H333.20V344.38H328.56ZM328.56,339.73L333.20,344.38M328.56,344.38L333.20,339.73" fill="none" stroke="#FB61D7" stroke-width="0.95"/><path d="M338.15,329.38H342.80V334.03H338.15ZM338.15,329.38L342.80,334.03M338.15,334.03L342.80,329.38" fill="none" stroke="#FB61D7" stroke-width="0.95"/><path d="M347.74,319.03H352.38V323.68H347.74ZM347.74,319.03L352.38,323.68M347.74,323.68L352.38,319.03" fill="none" stroke="#FB61D7" stroke-width="0.95"/><path d="M357.32,308.68H361.97V313.33H357.32ZM357.32,308.68L361.97,313.33M357.32,313.33L361.97,308.68" fill="none" stroke="#FB61D7" stroke-width="0.95"/><path d="M366.92,298.33H371.56V302.98H366.92ZM366.92,298.33L371.56,302.98M366.92,302.98L371.56,298.33" fill="none" stroke="#FB61D7" stroke-width="0.95"/><path d="M376.50,287.98H381.15V292.63H376.50ZM376.50,287.98L381.15,292.63M376.50,292.63L381.15,287.98" fill="none" stroke="#FB61D7" stroke-width="0.95"/><path d="M386.10,277.63H390.75V282.28H386.10ZM386.10,277.63L390.75,282.28M386.10,282.28L390.75,277.63" fill="none" stroke="#FB61D7" stroke-width="0.95"/><path d="M395.69,267.28H400.33V271.93H395.69ZM395.69,267.28L400.33,271.93M395.69,271.93L400.33,267.28" fill="none" stroke="#FB61D7" stroke-width="0.95"/><path d="M405.28,256.93H409.93V261.58H405.28ZM405.28,256.93L409.93,261.58M405.28,261.58L409.93,256.93" fill="none" stroke="#FB61D7" stroke-width="0.95"/><path d="M414.87,246.58H419.51V251.23H414.87ZM414.87,246.58L419.51,251.23M414.87,251.23L419.51,246.58" fill="none" stroke="#FB61D7" stroke-width="0.95"/><path d="M424.45,236.24H429.10V240.89H424.45ZM424.45,236.24L429.10,240.89M424.45,240.89L429.10,236.24" fill="none" stroke="#FB61D7" stroke-width="0.95"/><path d="M434.05,225.89H438.69V230.54H434.05ZM434.05,225.89L438.69,230.54M434.05,230.54L438.69,225.89" fill="none" stroke="#FB61D7" stroke-width="0.95"/><path d="M443.64,215.54H448.29V220.19H443.64ZM443.64,215.54L448.29,220.19M443.64,220.19L448.29,215.54" fill="none" stroke="#FB61D7" stroke-width="0.95"/><path d="M453.23,205.19H457.88V209.84H453.23ZM453.23,205.19L457.88,209.84M453.23,209.84L457.88,205.19" fill="none" stroke="#FB61D7" stroke-width="0.95"/></g>
<rect x="52.6" y="26.3" width="422.30" height="406.90" fill="none" stroke="#737373" stroke-width="1.25"/>
<path d="M49.1,414.50H52.6" stroke="#555" stroke-width="1"/>
<text x="40.5" y="420.20" font-size="19.2" text-anchor="end" fill="#1a1a1a">0</text>
<path d="M49.1,301.70H52.6" stroke="#555" stroke-width="1"/>
<text x="40.5" y="307.40" font-size="19.2" text-anchor="end" fill="#1a1a1a">2</text>
<path d="M49.1,188.90H52.6" stroke="#555" stroke-width="1"/>
<text x="40.5" y="194.60" font-size="19.2" text-anchor="end" fill="#1a1a1a">4</text>
<path d="M49.1,76.10H52.6" stroke="#555" stroke-width="1"/>
<text x="40.5" y="81.80" font-size="19.2" text-anchor="end" fill="#1a1a1a">6</text>
<path d="M71.95,433.2V436.2" stroke="#555" stroke-width="1"/>
<text x="70.45" y="454.4" font-size="19.2" text-anchor="middle" fill="#1a1a1a">-20</text>
<path d="M167.85,433.2V436.2" stroke="#555" stroke-width="1"/>
<text x="166.35" y="454.4" font-size="19.2" text-anchor="middle" fill="#1a1a1a">-10</text>
<path d="M263.75,433.2V436.2" stroke="#555" stroke-width="1"/>
<text x="263.45" y="454.4" font-size="19.2" text-anchor="middle" fill="#1a1a1a">0</text>
<path d="M359.65,433.2V436.2" stroke="#555" stroke-width="1"/>
<text x="359.35" y="454.4" font-size="19.2" text-anchor="middle" fill="#1a1a1a">10</text>
<path d="M455.55,433.2V436.2" stroke="#555" stroke-width="1"/>
<text x="455.25" y="454.4" font-size="19.2" text-anchor="middle" fill="#1a1a1a">20</text>
<text x="58.2" y="13.2" font-size="19.2" fill="#000">Sensitivity Analysis</text>
<text transform="translate(14.1,234.7) rotate(-90)" font-size="19.3" text-anchor="middle" fill="#000">Mean of absolute change rates of result (%)</text>
<text x="493.0" y="166.6" font-size="19.2" fill="#000">Variable</text>
<path d="M492.9,186.55H507.2" stroke="#F8766D" stroke-width="1.6"/>
<circle cx="500.10" cy="187.05" r="2.33" fill="none" stroke="#F8766D" stroke-width="0.95"/>
<text x="521.7" y="189.80" font-size="14.4" fill="#000">Railway density</text>
<path d="M492.9,203.8H507.2" stroke="#C49A00" stroke-width="1.6"/>
<path d="M500.10,200.68L503.23,206.11L496.97,206.11Z" fill="none" stroke="#C49A00" stroke-width="0.95"/>
<text x="521.7" y="208.70" font-size="14.4" fill="#000">People density</text>
<path d="M492.9,220.5H507.2" stroke="#53B400" stroke-width="1.4"/>
<path d="M496.15,221.00H504.05M500.10,217.05V224.95" fill="none" stroke="#53B400" stroke-width="0.95"/>
<text x="521.7" y="226.00" font-size="14.4" fill="#000">Annual average temperature</text>
<path d="M492.9,237.7H507.2" stroke="#00C094" stroke-width="2.3"/>
<path d="M497.78,235.88L502.43,240.52M497.78,240.52L502.43,235.88" fill="none" stroke="#00C094" stroke-width="0.95"/>
<text x="521.7" y="243.05" font-size="14.4" fill="#000">Annual precipitation</text>
<path d="M492.9,254.6H507.2" stroke="#00B6EB" stroke-width="1.6"/>
<path d="M496.81,255.10L500.10,251.81L503.39,255.10L500.10,258.39Z" fill="none" stroke="#00B6EB" stroke-width="0.95"/>
<text x="521.7" y="260.20" font-size="14.4" fill="#000">Pig density</text>
<path d="M492.9,271.8H507.2" stroke="#A58AFF" stroke-width="1.6"/>
<path d="M500.10,275.92L503.23,270.49L496.97,270.49Z" fill="none" stroke="#A58AFF" stroke-width="0.95"/>
<text x="521.7" y="277.60" font-size="14.4" fill="#000">Influence degree</text>
<path d="M492.9,288.8H507.2" stroke="#FB61D7" stroke-width="1.6"/>
<path d="M497.78,286.98H502.43V291.62H497.78ZM497.78,286.98L502.43,291.62M497.78,291.62L502.43,286.98" fill="none" stroke="#FB61D7" stroke-width="0.95"/>
<text x="521.7" y="295.20" font-size="14.4" fill="#000">Highway density</text>
</svg>
</body></html>
